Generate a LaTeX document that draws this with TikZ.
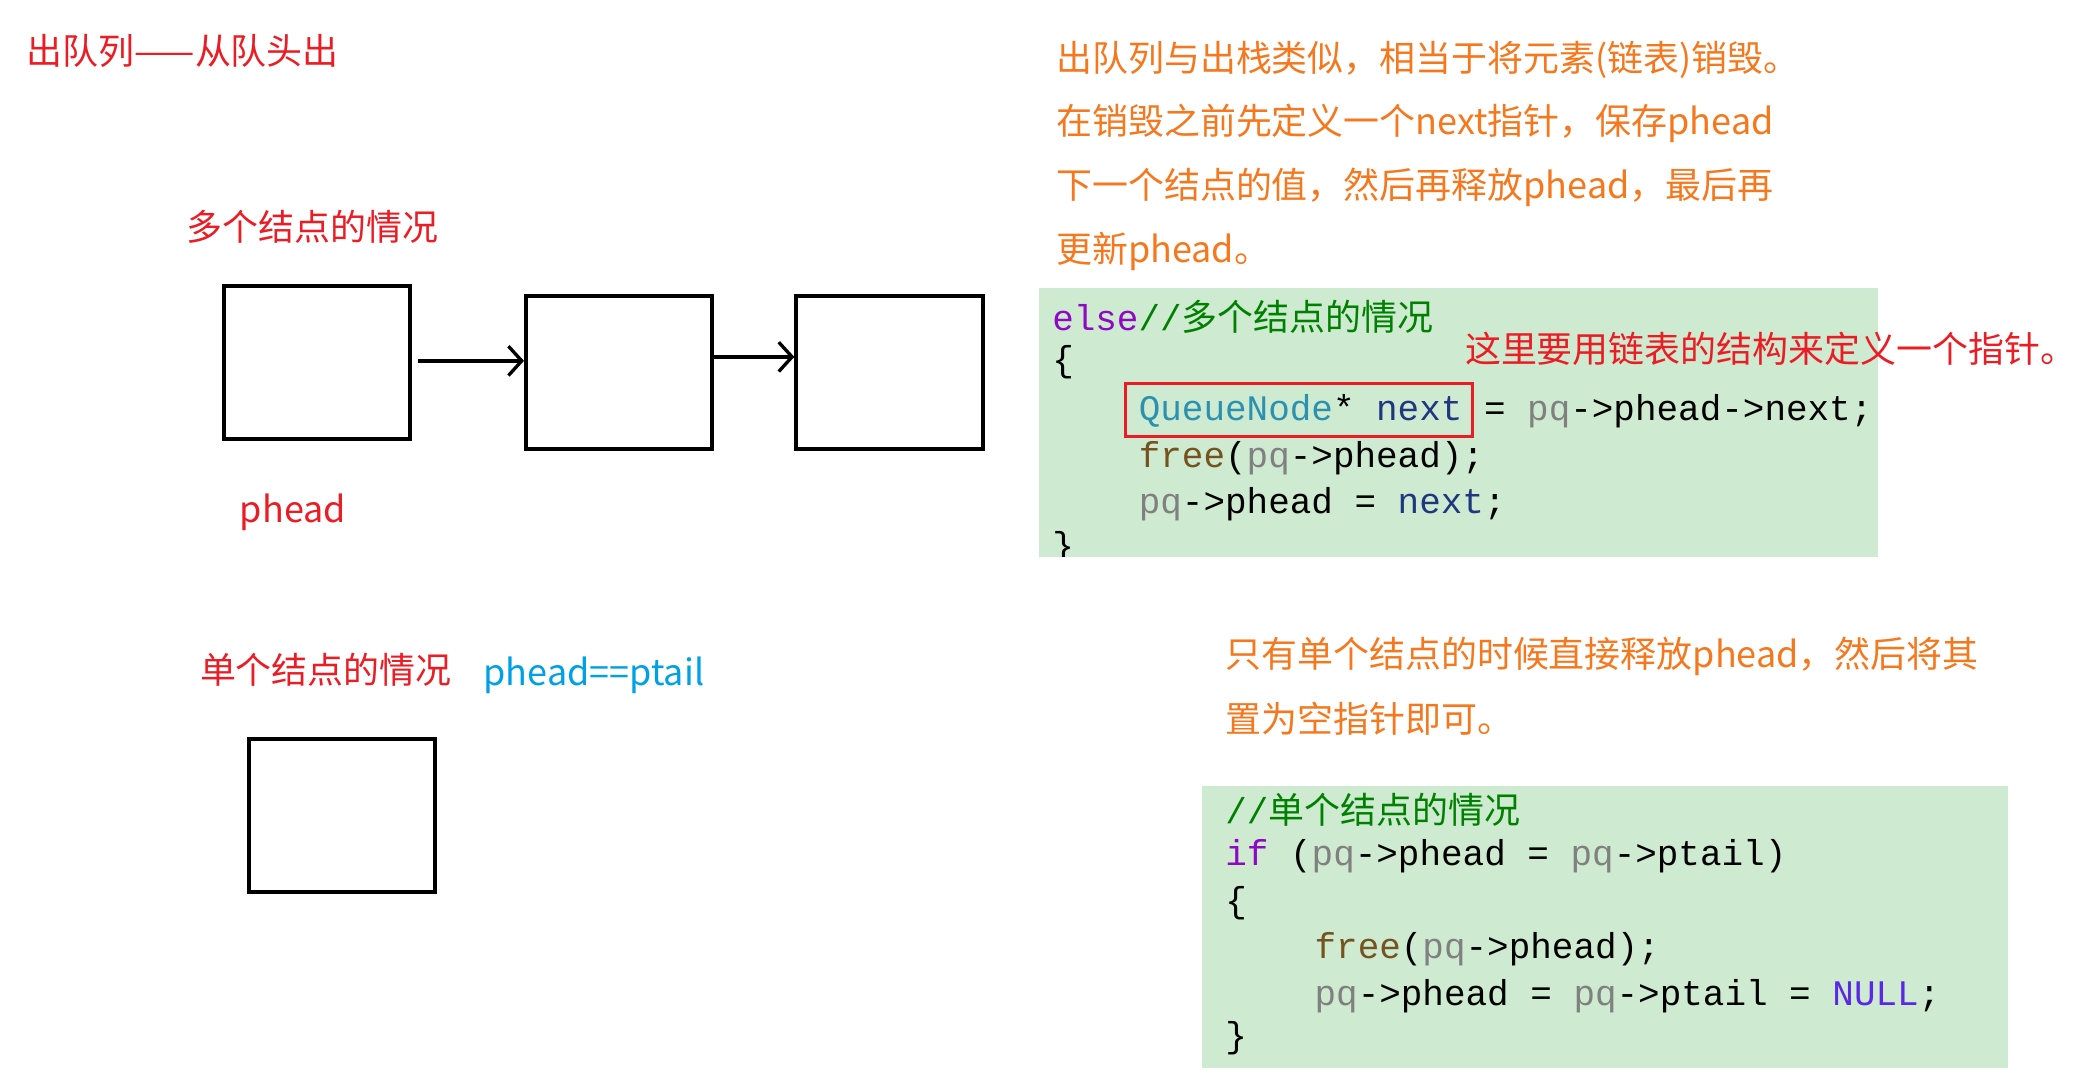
\documentclass[tikz,border=0pt]{standalone}
\usepackage{fontspec}
\setmainfont{Noto Sans CJK SC}
\newfontfamily\cjk{Noto Sans CJK SC}
\setmonofont{Liberation Mono}
\usetikzlibrary{arrows.meta}
\definecolor{tred}{RGB}{236,28,36}
\definecolor{tora}{RGB}{245,120,30}
\definecolor{tblue}{RGB}{0,160,230}
\definecolor{cbg}{RGB}{206,234,208}
\definecolor{kw}{RGB}{143,8,196}
\definecolor{cm}{RGB}{0,128,0}
\definecolor{ty}{RGB}{43,145,175}
\definecolor{vr}{RGB}{31,55,127}
\definecolor{gy}{RGB}{128,128,128}
\definecolor{fn}{RGB}{116,83,31}
\definecolor{nl}{RGB}{90,40,230}
\newcommand{\cc}[1]{{\cjk #1}}
\begin{document}
\begin{tikzpicture}[x=1pt,y=-1pt,
  txt/.style={anchor=west,inner sep=0pt,font=\fontsize{27}{30}\selectfont},
  code/.style={anchor=west,inner sep=0pt,font=\ttfamily\fontsize{27}{30}\selectfont},
  box/.style={draw,line width=3pt},
  arr/.style={line width=2.5pt,-{Straight Barb[length=10pt,width=22pt,line width=2.5pt]}}]
\useasboundingbox (0,0) rectangle (1568,810);
\node[txt,text=tred] (t1) at (20,38) {出队列——从队头出};
\node[txt,text=tred] (t2) at (140,170) {多个结点的情况};
\draw[box] (168,215) rectangle (308,330);
\coordinate (b1) at (314,271);
\node[box,minimum width=140pt,minimum height=115pt,inner sep=0pt] (b2) at (465,279.5) {};
\node[box,minimum width=140pt,minimum height=115pt,inner sep=0pt] (b3) at (668,279.5) {};
\draw[arr] (b1) -- (b2.west|-b1);
\draw[arr] (b2.east|-0,268) -- (b3.west|-0,268);
\node[txt,text=tred] (ph) at (180,385) {phead};
\node[txt,text=tred] (t3) at (150,503) {单个结点的情况};
\node[txt,text=tblue] (t4) at (363,507) {phead==ptail};
\node[box,minimum width=140pt,minimum height=115pt,inner sep=0pt] (b4) at (257,612.5) {};
\node[txt,text=tora] (o1) at (793,45) {出队列与出栈类似，相当于将元素(链表)销毁。};
\node[txt,text=tora] (o2) at (793,93) {在销毁之前先定义一个next指针，保存phead};
\node[txt,text=tora] (o3) at (793,141) {下一个结点的值，然后再释放phead，最后再};
\node[txt,text=tora] (o4) at (793,189) {更新phead。};
\fill[cbg] (780,216) rectangle (1410,418);
\begin{scope}
\clip (780,216) rectangle (1410,418);
\node[code] (c1) at (790,238) {\textcolor{kw}{else}\textcolor{cm}{//\cc{多个结点的情况}}};
\node[code] (c2) at (790,272) {\{};
\node[code] (c3) at (855,309) {\textcolor{ty}{QueueNode}* \textcolor{vr}{next} = \textcolor{gy}{pq}->phead->next;};
\node[code] (c4) at (855,344) {\textcolor{fn}{free}(\textcolor{gy}{pq}->phead);};
\node[code] (c5) at (855,379) {\textcolor{gy}{pq}->phead = \textcolor{vr}{next};};
\node[code] (c6) at (790,412) {\}};
\end{scope}
\draw[tred,line width=2.5pt] (845,288) rectangle (1106,328);
\node[txt,text=tred] (r1) at (1100,262) {这里要用链表的结构来定义一个指针。};
\node[txt,text=tora] (o5) at (920,493) {只有单个结点的时候直接释放phead，然后将其};
\node[txt,text=tora] (o6) at (920,540) {置为空指针即可。};
\fill[cbg] (903,590) rectangle (1508,802);
\node[code] (d1) at (920,608) {\textcolor{cm}{//\cc{单个结点的情况}}};
\node[code] (d2) at (920,643) {\textcolor{kw}{if} (\textcolor{gy}{pq}->phead = \textcolor{gy}{pq}->ptail)};
\node[code] (d3) at (920,678) {\{};
\node[code] (d4) at (987,713) {\textcolor{fn}{free}(\textcolor{gy}{pq}->phead);};
\node[code] (d5) at (987,748) {\textcolor{gy}{pq}->phead = \textcolor{gy}{pq}->ptail = \textcolor{nl}{NULL};};
\node[code] (d6) at (920,780) {\}};
\end{tikzpicture}
\end{document}
